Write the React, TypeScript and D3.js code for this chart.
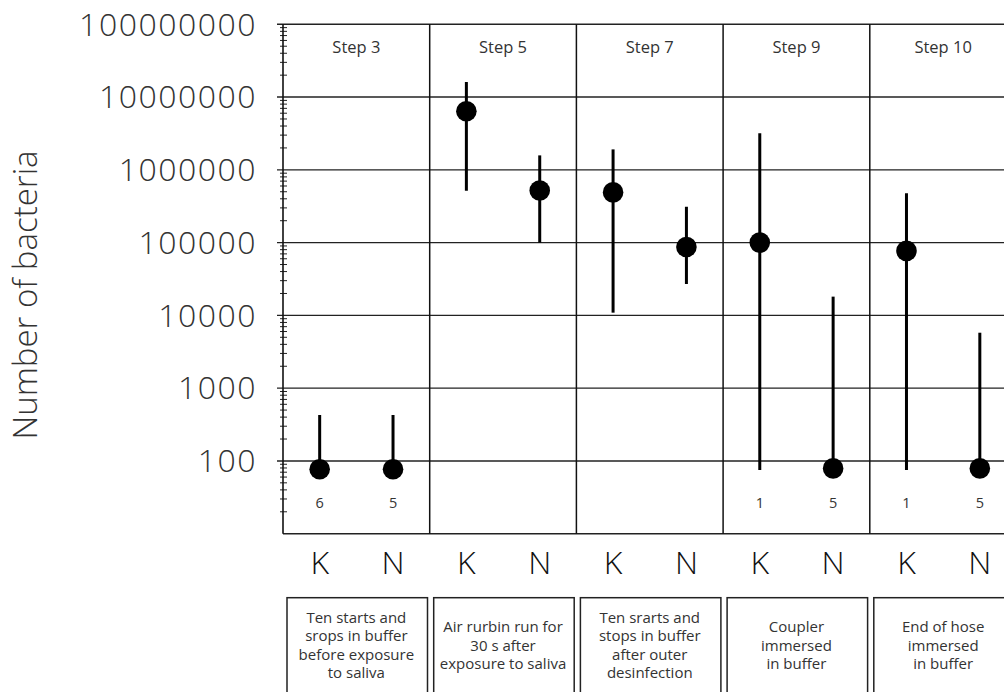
import React from "react";
import * as d3 from "d3";

const categories = ["K", "N", "K", "N", "K", "N", "K", "N", "K", "N"];
const steps = ["Step 3", "Step 5", "Step 7", "Step 9", "Step 10"];
const descriptions = [
  ["Ten starts and", "srops in buffer", "before exposure", "to saliva"],
  ["Air rurbin run for", "30 s after", "exposure to saliva"],
  ["Ten srarts and", "stops in buffer", "after outer", "desinfection"],
  ["Coupler", "immersed", "in buffer"],
  ["End of hose", "immersed", "in buffer"],
];
const medians = [77, 77, 6.4e6, 5.2e5, 4.9e5, 8.7e4, 1.0e5, 79, 7.7e4, 79];
const upper = [428, 428, 1.61e7, 1.58e6, 1.91e6, 3.11e5, 3.18e6, 1.81e4, 4.76e5, 5.78e3];
const lower = [77, 77, 5.16e5, 1.0e5, 1.09e4, 2.7e4, 75, 79, 75, 79];
const counts = ["6", "5", "", "", "", "", "1", "5", "1", "5"];
const yTicks = [100, 1000, 10000, 100000, 1000000, 10000000, 100000000];

const W = 1004;
const H = 692;
const left = 283;
const panelW = 146.7;
const right = left + panelW * steps.length;
const top = 24.3;
const bottom = 533.7;

export default function App() {
  const y = d3.scaleLog().domain([10, 1e8]).range([bottom, top]);
  const x = d3
    .scaleBand<number>()
    .domain(categories.map((_, i) => i))
    .range([left, right])
    .padding(0);
  const px = d3
    .scaleBand<number>()
    .domain(steps.map((_, i) => i))
    .range([left, right])
    .padding(0);
  const cx = (i: number) => (x(i) as number) + x.bandwidth() / 2;

  const minor: number[] = [];
  for (let e = 1; e < 8; e++) {
    for (let m = 2; m <= 9; m++) minor.push(m * Math.pow(10, e));
  }

  const thin = "'Open Sans', 'DejaVu Sans', sans-serif";
  const lineH = 18.3;
  const boxCy = 645;

  return (
    <svg
      width={W}
      height={H}
      style={{ position: "absolute", left: 0, top: 0, background: "#fff" }}
    >
      {/* y axis title */}
      <text
        transform={`translate(37,${295}) rotate(-90)`}
        textAnchor="middle"
        fontFamily={thin}
        fontWeight={300}
        fontSize={33}
        fill="#333"
      >
        Number of bacteria
      </text>

      {/* minor ticks */}
      {minor.map((v, i) => (
        <line
          key={"m" + i}
          x1={left - 3}
          x2={left + 4}
          y1={y(v)}
          y2={y(v)}
          stroke="#222"
          strokeWidth={1}
        />
      ))}

      {/* gridlines + major ticks */}
      {yTicks.map((v) => (
        <line
          key={"g" + v}
          x1={left - 6}
          x2={W}
          y1={y(v)}
          y2={y(v)}
          stroke="#222"
          strokeWidth={1.4}
        />
      ))}
      {yTicks.map((v) => (
        <text
          key={"t" + v}
          x={257}
          y={y(v)}
          dy="0.35em"
          textAnchor="end"
          fontFamily={thin}
          fontWeight={300}
          fontSize={32}
          letterSpacing={1.5}
          fill="#333"
        >
          {String(v)}
        </text>
      ))}

      {/* bottom border */}
      <line x1={left} x2={W} y1={bottom} y2={bottom} stroke="#222" strokeWidth={1.5} />
      {/* left axis */}
      <line x1={left} x2={left} y1={top} y2={bottom} stroke="#111" strokeWidth={1.6} />

      {/* panel separators */}
      {steps.map((_, i) =>
        i === 0 ? null : (
          <line
            key={"p" + i}
            x1={px(i) as number}
            x2={px(i) as number}
            y1={top}
            y2={bottom}
            stroke="#111"
            strokeWidth={1.5}
          />
        )
      )}

      {/* step labels */}
      {steps.map((s, i) => (
        <text
          key={"s" + i}
          x={(px(i) as number) + px.bandwidth() / 2}
          y={53}
          textAnchor="middle"
          fontFamily={thin}
          fontSize={16.5}
          fill="#333"
        >
          {s}
        </text>
      ))}

      {/* error bars */}
      {categories.map((_, i) => (
        <line
          key={"e" + i}
          x1={cx(i)}
          x2={cx(i)}
          y1={y(upper[i])}
          y2={y(lower[i])}
          stroke="#000"
          strokeWidth={3}
        />
      ))}
      {/* points */}
      {categories.map((_, i) => (
        <circle key={"c" + i} cx={cx(i)} cy={y(medians[i])} r={10.3} fill="#000" />
      ))}

      {/* counts */}
      {categories.map((_, i) =>
        counts[i] ? (
          <text
            key={"n" + i}
            x={cx(i)}
            y={507.5}
            textAnchor="middle"
            fontFamily={thin}
            fontSize={14.5}
            fill="#333"
          >
            {counts[i]}
          </text>
        ) : null
      )}

      {/* category labels */}
      {categories.map((c, i) => (
        <text
          key={"k" + i}
          x={cx(i)}
          y={574}
          textAnchor="middle"
          fontFamily={thin}
          fontWeight={300}
          fontSize={32}
          fill="#111"
        >
          {c}
        </text>
      ))}

      {/* description boxes */}
      {descriptions.map((lines, i) => {
        const bx = (px(i) as number) + 4;
        const ccx = (px(i) as number) + px.bandwidth() / 2;
        return (
          <g key={"b" + i}>
            <rect
              x={bx}
              y={597.7}
              width={140.5}
              height={110}
              fill="none"
              stroke="#222"
              strokeWidth={1.5}
            />
            {lines.map((l, j) => (
              <text
                key={j}
                x={ccx}
                y={boxCy + (j - (lines.length - 1) / 2) * lineH + 5.5}
                textAnchor="middle"
                fontFamily={thin}
                fontSize={15}
                fill="#333"
              >
                {l}
              </text>
            ))}
          </g>
        );
      })}
    </svg>
  );
}
